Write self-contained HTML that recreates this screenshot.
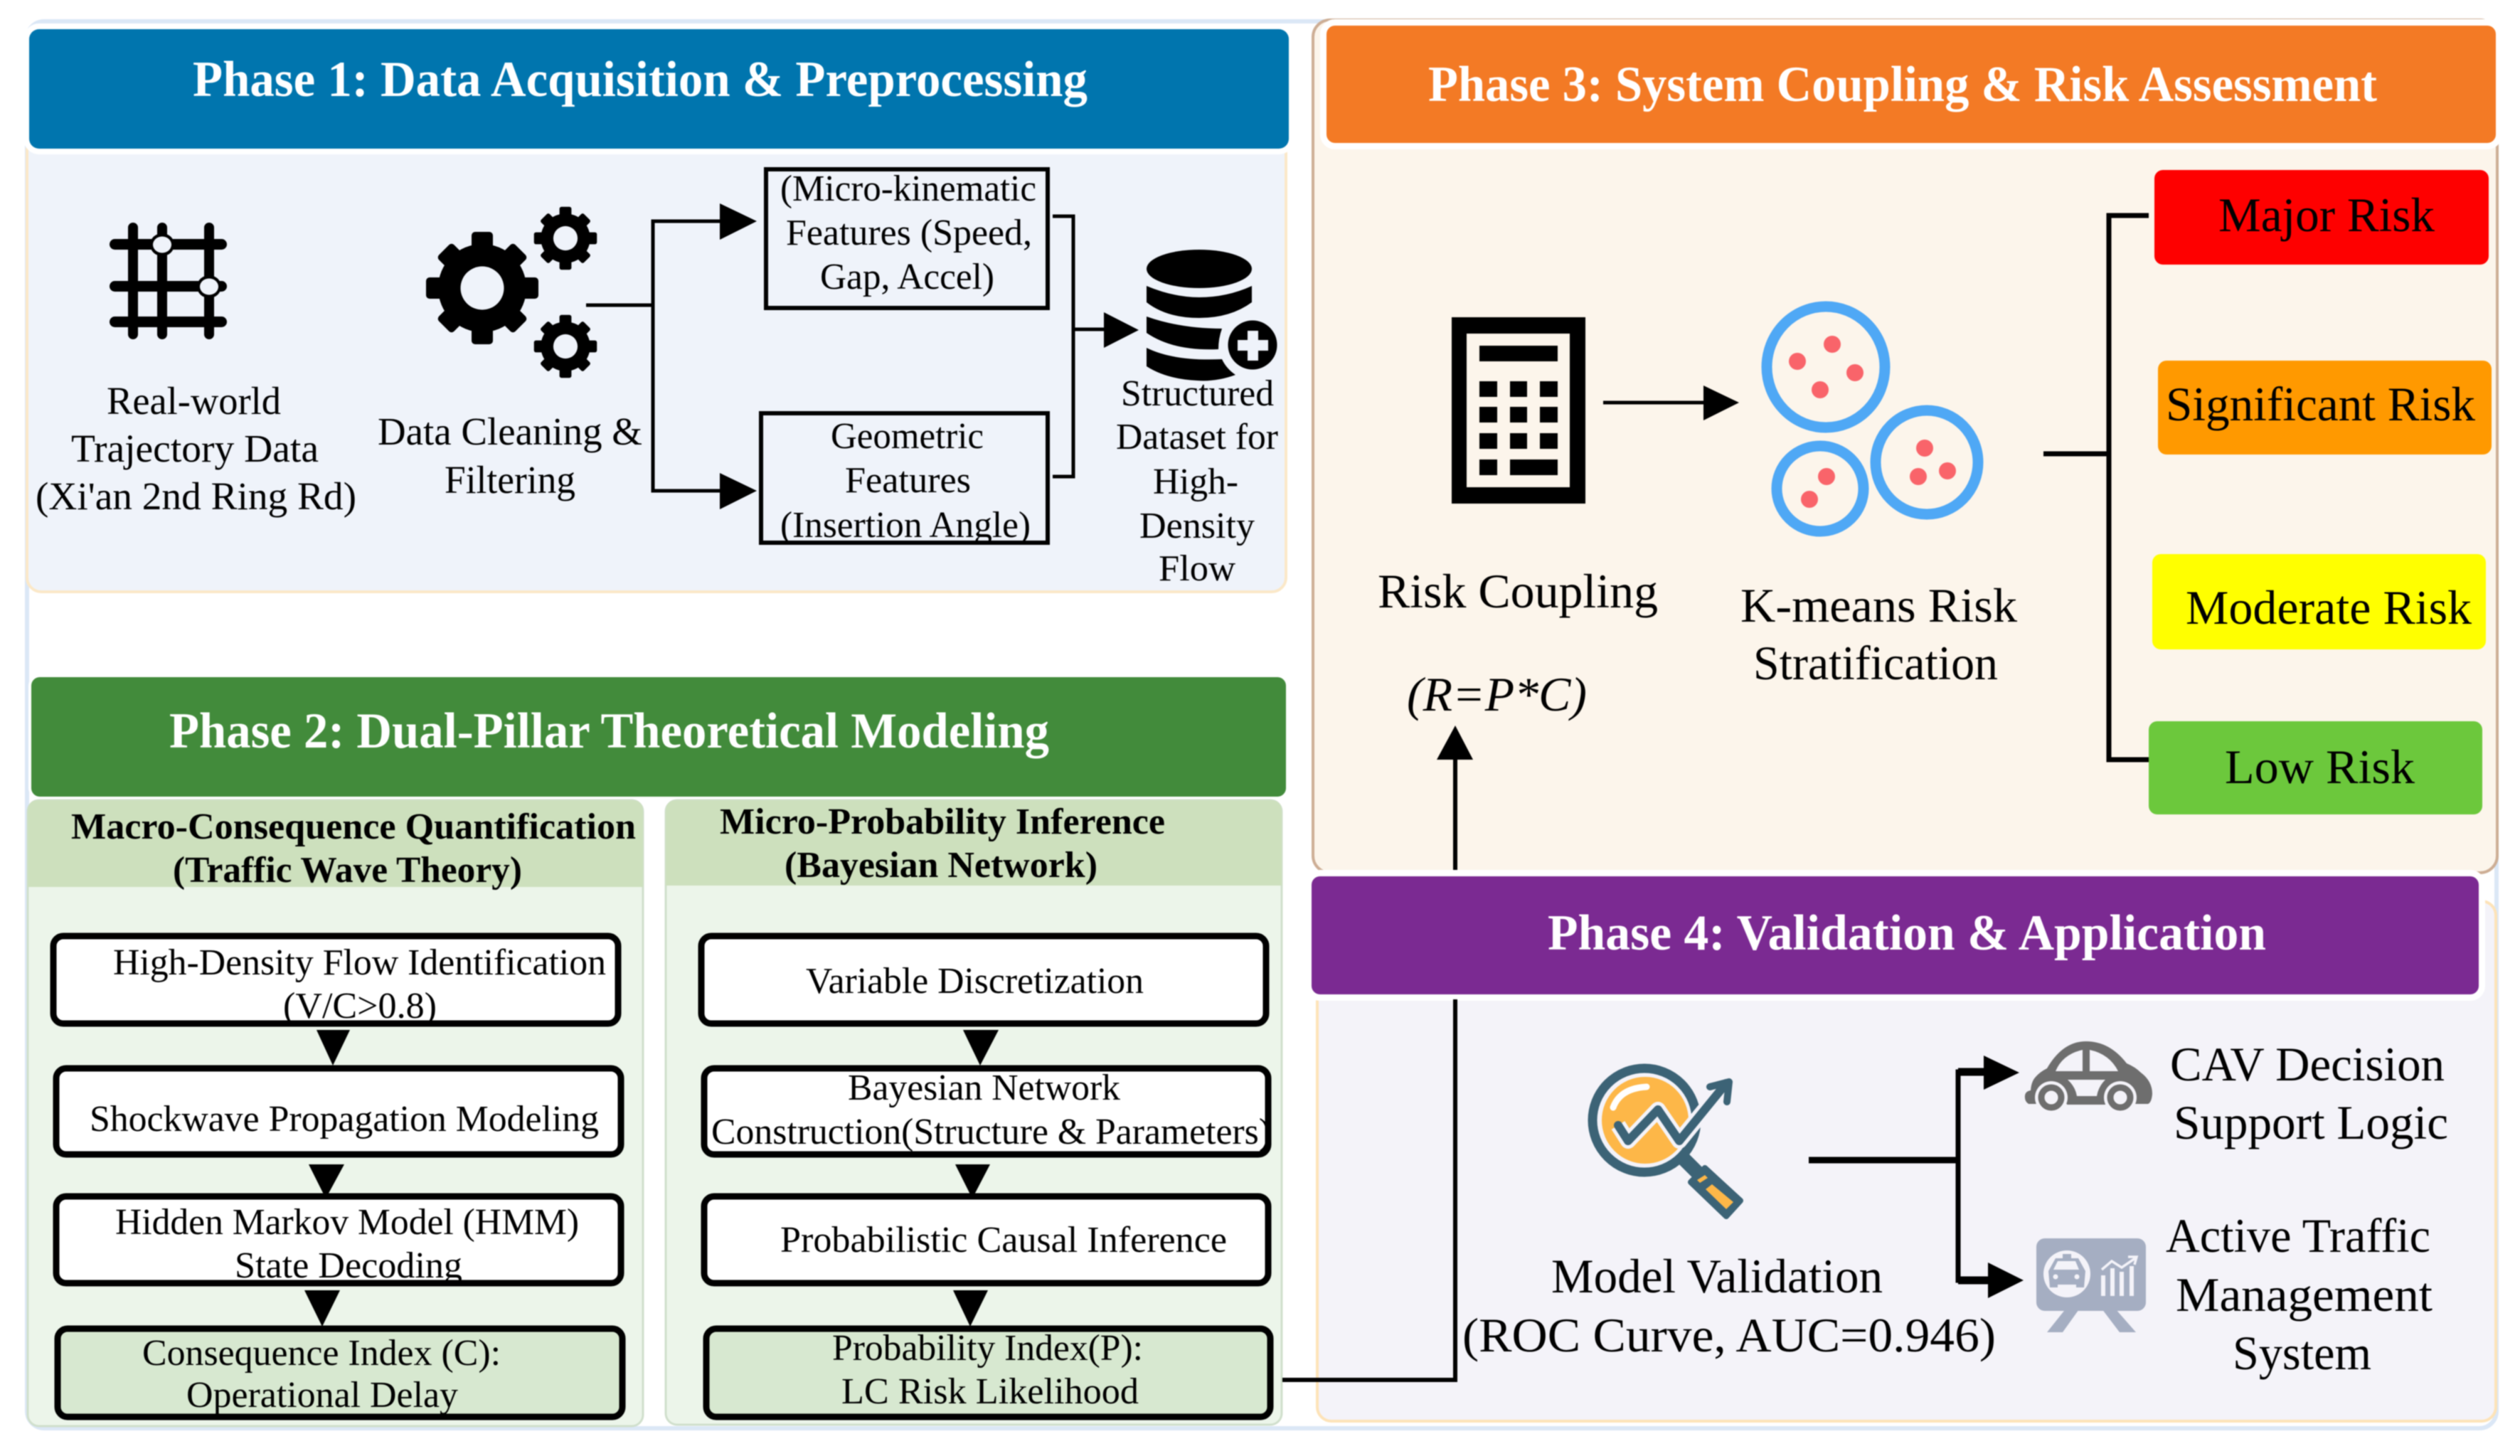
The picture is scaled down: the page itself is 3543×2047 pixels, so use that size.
<!DOCTYPE html>
<html><head><meta charset="utf-8"><style>
html,body{margin:0;padding:0;background:#fff}
svg{display:block;filter:blur(.7px)}
text{font-family:"Liberation Serif",serif;fill:#000}
.t{font-weight:bold;fill:#fff;font-size:71px}
.b{font-size:52px}
.h{font-weight:bold;font-size:52px}
.a{font-size:55px}
.l{font-size:68px}
</style></head><body>
<svg width="3543" height="2047" viewBox="0 0 3543 2047" xmlns="http://www.w3.org/2000/svg">
<defs>
<g id="gear">
<g fill="#000"><circle r="62"/>
<rect x="-15" y="-79" width="30" height="158" rx="5"/>
<rect x="-15" y="-76" width="30" height="152" rx="5" transform="rotate(45)"/>
<rect x="-15" y="-79" width="30" height="158" rx="5" transform="rotate(90)"/>
<rect x="-15" y="-76" width="30" height="152" rx="5" transform="rotate(135)"/></g>
<circle r="30.5" fill="#eff3fa"/>
</g>
</defs>
<rect width="3543" height="2047" fill="#fff"/>
<!-- outer frame -->
<rect x="38" y="30" width="3472" height="1978" rx="24" fill="none" stroke="#dbe7f6" stroke-width="6"/>

<!-- Phase 1 -->
<rect x="38" y="190" width="1770" height="642" rx="20" fill="#eff3fa" stroke="#fbe8c8" stroke-width="4"/>
<rect x="41" y="41" width="1771" height="168" rx="14" fill="#0075ae" stroke="#fff" stroke-width="16" paint-order="stroke"/>
<text class="t" x="271" y="135" textLength="1258" lengthAdjust="spacingAndGlyphs">Phase 1: Data Acquisition &amp; Preprocessing</text>

<g fill="#000">
<rect x="180" y="313" width="14" height="164" rx="7"/><rect x="221" y="313" width="14" height="164" rx="7"/><rect x="287" y="313" width="14" height="164" rx="7"/>
<rect x="154" y="336" width="165" height="15" rx="7.5"/><rect x="154" y="395" width="165" height="15" rx="7.5"/><rect x="154" y="445" width="165" height="15" rx="7.5"/>
<ellipse cx="228" cy="344" rx="17" ry="16"/><ellipse cx="294" cy="403" rx="17" ry="16"/>
</g>
<ellipse cx="228" cy="344" rx="13" ry="11.5" fill="#eff3fa"/><ellipse cx="294" cy="403" rx="13" ry="11.5" fill="#eff3fa"/>

<use href="#gear" transform="translate(678,405)"/>
<use href="#gear" transform="translate(795,335) scale(.56)"/>
<use href="#gear" transform="translate(795,487) scale(.56)"/>

<text class="a" x="150" y="582" textLength="245" lengthAdjust="spacingAndGlyphs">Real-world</text>
<text class="a" x="100" y="649" textLength="348" lengthAdjust="spacingAndGlyphs">Trajectory Data</text>
<text class="a" x="50" y="716" textLength="451" lengthAdjust="spacingAndGlyphs">(Xi'an 2nd Ring Rd)</text>
<text class="a" x="531" y="625" textLength="372" lengthAdjust="spacingAndGlyphs">Data Cleaning &amp;</text>
<text class="a" x="625" y="693" textLength="184" lengthAdjust="spacingAndGlyphs">Filtering</text>

<path d="M824 429H918M1015 311H918V690H1015" fill="none" stroke="#000" stroke-width="5"/>
<path d="M1012 286L1064 311L1012 337ZM1012 665L1064 690L1012 716Z" fill="#000"/>
<rect x="1077" y="238" width="396" height="195" fill="none" stroke="#000" stroke-width="6"/>
<rect x="1070" y="581" width="403" height="182" fill="none" stroke="#000" stroke-width="6"/>
<text class="b" x="1097" y="282" textLength="360" lengthAdjust="spacingAndGlyphs">(Micro-kinematic</text>
<text class="b" x="1105" y="344" textLength="346" lengthAdjust="spacingAndGlyphs">Features (Speed,</text>
<text class="b" x="1153" y="406" textLength="245" lengthAdjust="spacingAndGlyphs">Gap, Accel)</text>
<text class="b" x="1168" y="630" textLength="215" lengthAdjust="spacingAndGlyphs">Geometric</text>
<text class="b" x="1188" y="692" textLength="177" lengthAdjust="spacingAndGlyphs">Features</text>
<text class="b" x="1097" y="755" textLength="352" lengthAdjust="spacingAndGlyphs">(Insertion Angle)</text>
<path d="M1480 304H1509V670H1480M1509 463H1555" fill="none" stroke="#000" stroke-width="5"/>
<path d="M1552 439L1601 464L1552 489Z" fill="#000"/>

<!-- database -->
<ellipse cx="1686" cy="378" rx="74" ry="27" fill="#000"/>
<path d="M1612 402Q1650 418 1686 418Q1725 418 1760 402V425Q1730 447 1686 447Q1640 447 1612 425Z" fill="#000"/>
<path d="M1612 445Q1660 462 1718 462Q1713 476 1713 491Q1650 494 1612 468Z" fill="#000"/>
<path d="M1612 489Q1650 508 1718 505Q1724 518 1737 527Q1710 537 1683 535Q1640 533 1612 515Z" fill="#000"/>
<circle cx="1761" cy="485" r="34.5" fill="#000"/>
<path d="M1754 465H1769V478H1783V493H1769V507H1754V493H1740V478H1754Z" fill="#eff3fa"/>
<text class="b" x="1576" y="570" textLength="215" lengthAdjust="spacingAndGlyphs">Structured</text>
<text class="b" x="1569" y="631" textLength="228" lengthAdjust="spacingAndGlyphs">Dataset for</text>
<text class="b" x="1621" y="694" textLength="120" lengthAdjust="spacingAndGlyphs">High-</text>
<text class="b" x="1602" y="756" textLength="162" lengthAdjust="spacingAndGlyphs">Density</text>
<text class="b" x="1629" y="816" textLength="108" lengthAdjust="spacingAndGlyphs">Flow</text>

<!-- Phase 2 -->
<rect x="44" y="952" width="1764" height="168" rx="12" fill="#428b3b" stroke="#fff" stroke-width="8" paint-order="stroke"/>
<text class="t" x="238" y="1051" textLength="1237" lengthAdjust="spacingAndGlyphs">Phase 2: Dual-Pillar Theoretical Modeling</text>

<rect x="39" y="1125" width="865" height="880" rx="16" fill="#ecf5ea" stroke="#d0dfcc" stroke-width="3"/>
<path d="M39 1247V1141Q39 1125 55 1125H888Q904 1125 904 1141V1247Z" fill="#cde0bd"/>
<rect x="936" y="1125" width="866" height="878" rx="16" fill="#ecf5ea" stroke="#d0dfcc" stroke-width="3"/>
<path d="M936 1245V1141Q936 1125 952 1125H1786Q1802 1125 1802 1141V1245Z" fill="#cde0bd"/>
<text class="h" x="100" y="1179" textLength="794" lengthAdjust="spacingAndGlyphs">Macro-Consequence Quantification</text>
<text class="h" x="243" y="1240" textLength="491" lengthAdjust="spacingAndGlyphs">(Traffic Wave Theory)</text>
<text class="h" x="1012" y="1172" textLength="626" lengthAdjust="spacingAndGlyphs">Micro-Probability Inference</text>
<text class="h" x="1103" y="1233" textLength="440" lengthAdjust="spacingAndGlyphs">(Bayesian Network)</text>

<g fill="#fff" stroke="#000" stroke-width="9">
<rect x="75" y="1316" width="794" height="123" rx="14"/>
<rect x="79" y="1502" width="794" height="121" rx="14"/>
<rect x="79" y="1682" width="794" height="122" rx="14"/>
<rect x="81" y="1868" width="794" height="124" rx="14" fill="#d7e8d0"/>
<rect x="986" y="1316" width="794" height="123" rx="14"/>
<rect x="990" y="1502" width="793" height="121" rx="14"/>
<rect x="990" y="1682" width="793" height="122" rx="14"/>
<rect x="993" y="1868" width="793" height="124" rx="14" fill="#d7e8d0"/>
</g>
<g fill="#000">
<path d="M445 1448H492L468 1498Z"/><path d="M434 1637H484L458 1685Z"/><path d="M428 1814H478L453 1865Z"/>
<path d="M1354 1448H1404L1378 1498Z"/><path d="M1343 1637H1392L1367 1685Z"/><path d="M1340 1814H1389L1364 1865Z"/>
</g>
<text class="b" x="159" y="1370" textLength="693" lengthAdjust="spacingAndGlyphs">High-Density Flow Identification</text>
<text class="b" x="398" y="1431" textLength="216" lengthAdjust="spacingAndGlyphs">(V/C&gt;0.8)</text>
<text class="b" x="126" y="1590" textLength="716" lengthAdjust="spacingAndGlyphs">Shockwave Propagation Modeling</text>
<text class="b" x="162" y="1735" textLength="652" lengthAdjust="spacingAndGlyphs">Hidden Markov Model (HMM)</text>
<text class="b" x="330" y="1796" textLength="320" lengthAdjust="spacingAndGlyphs">State Decoding</text>
<text class="b" x="200" y="1919" textLength="504" lengthAdjust="spacingAndGlyphs">Consequence Index (C):</text>
<text class="b" x="262" y="1978" textLength="382" lengthAdjust="spacingAndGlyphs">Operational Delay</text>
<text class="b" x="1133" y="1396" textLength="475" lengthAdjust="spacingAndGlyphs">Variable Discretization</text>
<text class="b" x="1192" y="1546" textLength="383" lengthAdjust="spacingAndGlyphs">Bayesian Network</text>
<text class="b" x="1000" y="1608" textLength="787" lengthAdjust="spacingAndGlyphs">Construction(Structure &amp; Parameters)</text>
<text class="b" x="1097" y="1760" textLength="628" lengthAdjust="spacingAndGlyphs">Probabilistic Causal Inference</text>
<text class="b" x="1170" y="1912" textLength="437" lengthAdjust="spacingAndGlyphs">Probability Index(P):</text>
<text class="b" x="1183" y="1973" textLength="418" lengthAdjust="spacingAndGlyphs">LC Risk Likelihood</text>

<!-- Phase 3 -->
<rect x="1846" y="28" width="1665" height="1199" rx="24" fill="#fcf5eb" stroke="#cdae95" stroke-width="4"/>
<rect x="1865" y="36" width="1644" height="165" rx="12" fill="#f37a25" stroke="#fff" stroke-width="18" paint-order="stroke"/>
<text class="t" x="2008" y="142" textLength="1334" lengthAdjust="spacingAndGlyphs">Phase 3: System Coupling &amp; Risk Assessment</text>

<rect x="2041" y="446" width="188" height="262" fill="#000"/>
<rect x="2062" y="469" width="145" height="216" fill="#fcf5eb"/>
<g fill="#000">
<rect x="2080" y="486" width="110" height="22"/>
<rect x="2080" y="536" width="25" height="22"/><rect x="2123" y="536" width="24" height="22"/><rect x="2165" y="536" width="25" height="22"/>
<rect x="2080" y="572" width="25" height="22"/><rect x="2123" y="572" width="24" height="22"/><rect x="2165" y="572" width="25" height="22"/>
<rect x="2080" y="609" width="25" height="22"/><rect x="2123" y="609" width="24" height="22"/><rect x="2165" y="609" width="25" height="22"/>
<rect x="2080" y="646" width="25" height="22"/><rect x="2123" y="646" width="67" height="22"/>
</g>
<path d="M2254 566H2400" stroke="#000" stroke-width="5"/>
<path d="M2395 542L2445 566L2395 591Z" fill="#000"/>
<g fill="none" stroke="#4fa8f5" stroke-width="15">
<ellipse cx="2567" cy="516" rx="83" ry="85"/>
<ellipse cx="2709" cy="650" rx="72" ry="73"/>
<ellipse cx="2559" cy="687" rx="61" ry="60"/>
</g>
<g fill="#f9646a">
<circle cx="2576" cy="484" r="12"/><circle cx="2527" cy="508" r="12"/><circle cx="2608" cy="524" r="12"/><circle cx="2559" cy="548" r="12"/>
<circle cx="2706" cy="630" r="12"/><circle cx="2738" cy="662" r="12"/><circle cx="2697" cy="670" r="12"/>
<circle cx="2568" cy="670" r="12"/><circle cx="2544" cy="702" r="12"/>
</g>
<path d="M2873 638H2965M3021 303H2965V1068H3021" fill="none" stroke="#000" stroke-width="7"/>
<rect x="3029" y="239" width="470" height="133" rx="12" fill="#fe0000"/>
<rect x="3034" y="507" width="469" height="132" rx="12" fill="#ff9900"/>
<rect x="3026" y="779" width="469" height="134" rx="12" fill="#ffff00"/>
<rect x="3021" y="1014" width="469" height="131" rx="12" fill="#6cc83c"/>
<text class="l" x="3119" y="325" textLength="304" lengthAdjust="spacingAndGlyphs">Major Risk</text>
<text class="l" x="3045" y="591" textLength="435" lengthAdjust="spacingAndGlyphs">Significant Risk</text>
<text class="l" x="3073" y="877" textLength="402" lengthAdjust="spacingAndGlyphs">Moderate Risk</text>
<text class="l" x="3128" y="1101" textLength="267" lengthAdjust="spacingAndGlyphs">Low Risk</text>
<text class="l" x="1937" y="854" textLength="394" lengthAdjust="spacingAndGlyphs">Risk Coupling</text>
<text class="l" x="1978" y="999" textLength="253" lengthAdjust="spacingAndGlyphs" font-style="italic">(R=P*C)</text>
<text class="l" x="2447" y="874" textLength="389" lengthAdjust="spacingAndGlyphs">K-means Risk</text>
<text class="l" x="2465" y="955" textLength="344" lengthAdjust="spacingAndGlyphs">Stratification</text>
<path d="M2046 1225V1060" stroke="#000" stroke-width="6"/>
<path d="M2020 1068L2046 1020L2071 1068Z" fill="#000"/>

<!-- Phase 4 -->
<rect x="1852" y="1267" width="1657" height="731" rx="20" fill="#f4f3f9" stroke="#fde3b8" stroke-width="4"/>
<rect x="1844" y="1232" width="1641" height="166" rx="12" fill="#7b2a92" stroke="#fff" stroke-width="18" paint-order="stroke"/>
<text class="t" x="2176" y="1335" textLength="1010" lengthAdjust="spacingAndGlyphs">Phase 4: Validation &amp; Application</text>

<path d="M1803 1940H2046V1405" fill="none" stroke="#000" stroke-width="6"/>

<!-- magnifier -->
<circle cx="2313" cy="1575" r="61" fill="#fdb748"/>
<circle cx="2312" cy="1575" r="73" fill="none" stroke="#3c6376" stroke-width="13"/>
<path d="M2268 1557Q2278 1530 2315 1528" fill="none" stroke="#fff" stroke-width="9" stroke-linecap="round"/>
<path d="M2275 1582L2289 1604L2331 1560L2361 1604L2427 1523" fill="none" stroke="#f4f3f9" stroke-width="22" stroke-linejoin="round"/>
<path d="M2275 1582L2289 1604L2331 1560L2361 1604L2427 1523" fill="none" stroke="#3c6376" stroke-width="12" stroke-linejoin="round" stroke-linecap="round"/>
<path d="M2404 1528L2431 1521L2428 1549" fill="none" stroke="#3c6376" stroke-width="10" stroke-linecap="round" stroke-linejoin="round"/>
<path d="M2364 1626L2390 1652" stroke="#3c6376" stroke-width="20"/>
<path d="M2397 1642L2447 1688L2427 1710L2377 1662Z" fill="#3c6376" stroke="#3c6376" stroke-width="8" stroke-linejoin="round"/>
<path d="M2407 1665L2437 1690L2427 1700L2398 1672Z" fill="#fdb748"/>
<path d="M2397 1652L2401 1656L2390 1663L2386 1659Z" fill="#fdb748"/>

<path d="M2543 1631H2753" stroke="#000" stroke-width="9"/>
<path d="M2793 1507H2753V1800H2800" fill="none" stroke="#000" stroke-width="7"/>
<path d="M2753 1507H2793M2753 1800H2798" stroke="#000" stroke-width="11"/>
<path d="M2789 1484L2839 1508L2789 1532ZM2795 1775L2845 1800L2795 1825Z" fill="#000"/>

<!-- car -->
<path d="M2852 1552Q2846 1548 2847 1540Q2848 1534 2855 1533Q2856 1520 2862 1514Q2868 1507 2878 1502Q2900 1464 2933 1464Q2966 1464 2990 1495Q3002 1500 3010 1508Q3026 1520 3026 1538Q3025 1550 3020 1552Z" fill="#6e6e6e"/>
<path d="M2890 1506Q2900 1482 2928 1476V1506ZM2938 1476Q2966 1482 2978 1506H2938Z" fill="#f4f3f9"/>
<path d="M2907 1518H2960Q2950 1528 2948 1541H2920Q2918 1528 2907 1518Z" fill="#f4f3f9"/>
<circle cx="2884" cy="1543" r="23" fill="#f4f3f9"/><circle cx="2981" cy="1543" r="23" fill="#f4f3f9"/>
<rect x="2850" y="1552" width="12" height="10" fill="#f4f3f9"/><rect x="3005" y="1552" width="22" height="10" fill="#f4f3f9"/>
<rect x="2906" y="1552" width="54" height="1" fill="#6e6e6e"/>
<circle cx="2884" cy="1543" r="14" fill="#f4f3f9" stroke="#6e6e6e" stroke-width="9"/>
<circle cx="2981" cy="1543" r="14" fill="#f4f3f9" stroke="#6e6e6e" stroke-width="9"/>

<!-- board -->
<path d="M2910 1833L2878 1873H2900L2925 1838ZM2967 1832L2955 1840L2980 1873H3003Z" fill="#a5aec2"/>
<rect x="2863" y="1741" width="154" height="102" rx="12" fill="#a5aec2"/>
<circle cx="2906" cy="1791" r="33" fill="#f4f3f9"/>
<path d="M2890 1769H2922L2932 1787L2930 1810H2882L2880 1787Z" fill="#a5aec2"/>
<rect x="2900" y="1763" width="12" height="6" fill="#a5aec2"/>
<path d="M2893 1773H2918L2923 1785H2887Z" fill="#f4f3f9"/>
<circle cx="2890" cy="1795" r="3.5" fill="#f4f3f9"/><circle cx="2920" cy="1795" r="3.5" fill="#f4f3f9"/>
<rect x="2893" y="1806" width="26" height="6" fill="#f4f3f9"/>
<path d="M2957 1822V1793M2970 1822V1783M2983 1822V1788M2997 1822V1780" stroke="#f4f3f9" stroke-width="6"/>
<path d="M2955 1785L2969 1773L2983 1782L3002 1769M2992 1767L3004 1767L3001 1778" fill="none" stroke="#f4f3f9" stroke-width="3.5"/>

<text class="l" x="3051" y="1519" textLength="386" lengthAdjust="spacingAndGlyphs">CAV Decision</text>
<text class="l" x="3056" y="1601" textLength="386" lengthAdjust="spacingAndGlyphs">Support Logic</text>
<text class="l" x="3045" y="1760" textLength="372" lengthAdjust="spacingAndGlyphs">Active Traffic</text>
<text class="l" x="3059" y="1843" textLength="361" lengthAdjust="spacingAndGlyphs">Management</text>
<text class="l" x="3139" y="1925" textLength="195" lengthAdjust="spacingAndGlyphs">System</text>
<text class="l" x="2181" y="1817" textLength="466" lengthAdjust="spacingAndGlyphs">Model Validation</text>
<text class="l" x="2056" y="1900" textLength="750" lengthAdjust="spacingAndGlyphs">(ROC Curve, AUC=0.946)</text>
</svg>
</body></html>
